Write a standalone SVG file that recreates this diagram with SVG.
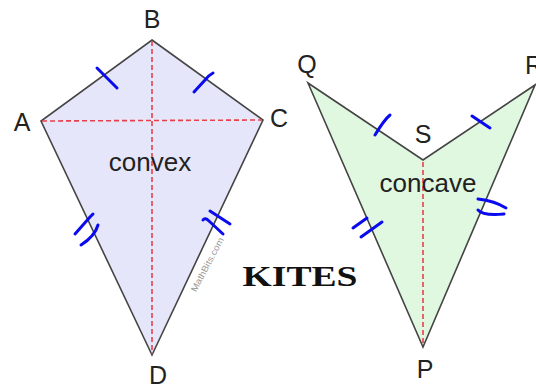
<svg xmlns="http://www.w3.org/2000/svg" width="536" height="385" viewBox="0 0 536 385">
<style>
.edge{stroke:#444;stroke-width:1.6;stroke-linejoin:miter}
.diag{fill:none;stroke:#e8404a;stroke-width:1.6;stroke-dasharray:5 3}
.tick{fill:none;stroke:#0a0aee;stroke-width:3;stroke-linecap:round;stroke-linejoin:round}
.lbl{font-family:"Liberation Sans",Arial,sans-serif;font-size:25px;fill:#222;text-anchor:middle}
.name{font-family:"Liberation Sans",Arial,sans-serif;font-size:26px;fill:#222;text-anchor:middle}
</style>
<rect width="536" height="385" fill="#fff"/>
<g id="convex-kite">
<polygon class="edge" points="152,40 263,120 152,355 41,121" fill="#e6e6fa"/>
<line class="diag" x1="152" y1="41" x2="152" y2="354"/>
<line class="diag" x1="42" y1="121" x2="262" y2="120"/>
<text class="name" x="150" y="171">convex</text>
<text x="210" y="266" transform="rotate(-62 210 266)" font-family="'Liberation Sans',Arial,sans-serif" font-size="9" fill="#999" text-anchor="middle" textLength="60" lengthAdjust="spacingAndGlyphs">MathBits.com</text>
</g>
<g id="concave-kite">
<polygon class="edge" points="308,83 423,160 535,85 423,347" fill="#e0f8e0"/>
<line class="diag" x1="423" y1="162" x2="423" y2="346" stroke="#ee7070"/>
<text class="name" x="428" y="192">concave</text>
</g>
<g id="labels">
<text class="lbl" x="152" y="28">B</text>
<text class="lbl" x="22" y="131">A</text>
<text class="lbl" x="279" y="127">C</text>
<text class="lbl" x="158" y="384">D</text>
<text class="lbl" x="307" y="73">Q</text>
<text class="lbl" x="525" y="74" style="text-anchor:start">R</text>
<text class="lbl" x="423" y="143">S</text>
<text class="lbl" x="425" y="378">P</text>
<text x="300" y="286" font-family="'Liberation Serif','Times New Roman',serif" font-weight="bold" font-size="29" fill="#111" text-anchor="middle" textLength="115" lengthAdjust="spacingAndGlyphs">KITES</text>
</g>
<g id="ticks">
<path class="tick" d="M97,68 L117,88"/>
<path class="tick" d="M194,92 L205,80 Q209,75 213,73"/>
<path class="tick" d="M75,234 L90,217 Q92,215 93,214"/>
<path class="tick" d="M81,245 Q95,236 98,225"/>
<path class="tick" d="M210,211 L230,224"/>
<path class="tick" d="M203,220 Q205,217 209,221 L223,234"/>
<path class="tick" d="M375,135 Q384,120 390,115"/>
<path class="tick" d="M472,116 L490,128"/>
<path class="tick" d="M353,228 L367,218"/>
<path class="tick" d="M361,237 L382,222"/>
<path class="tick" d="M478,199 Q495,201 506,208"/>
<path class="tick" d="M478,210 Q483,216 504,214"/>
</g>
</svg>
